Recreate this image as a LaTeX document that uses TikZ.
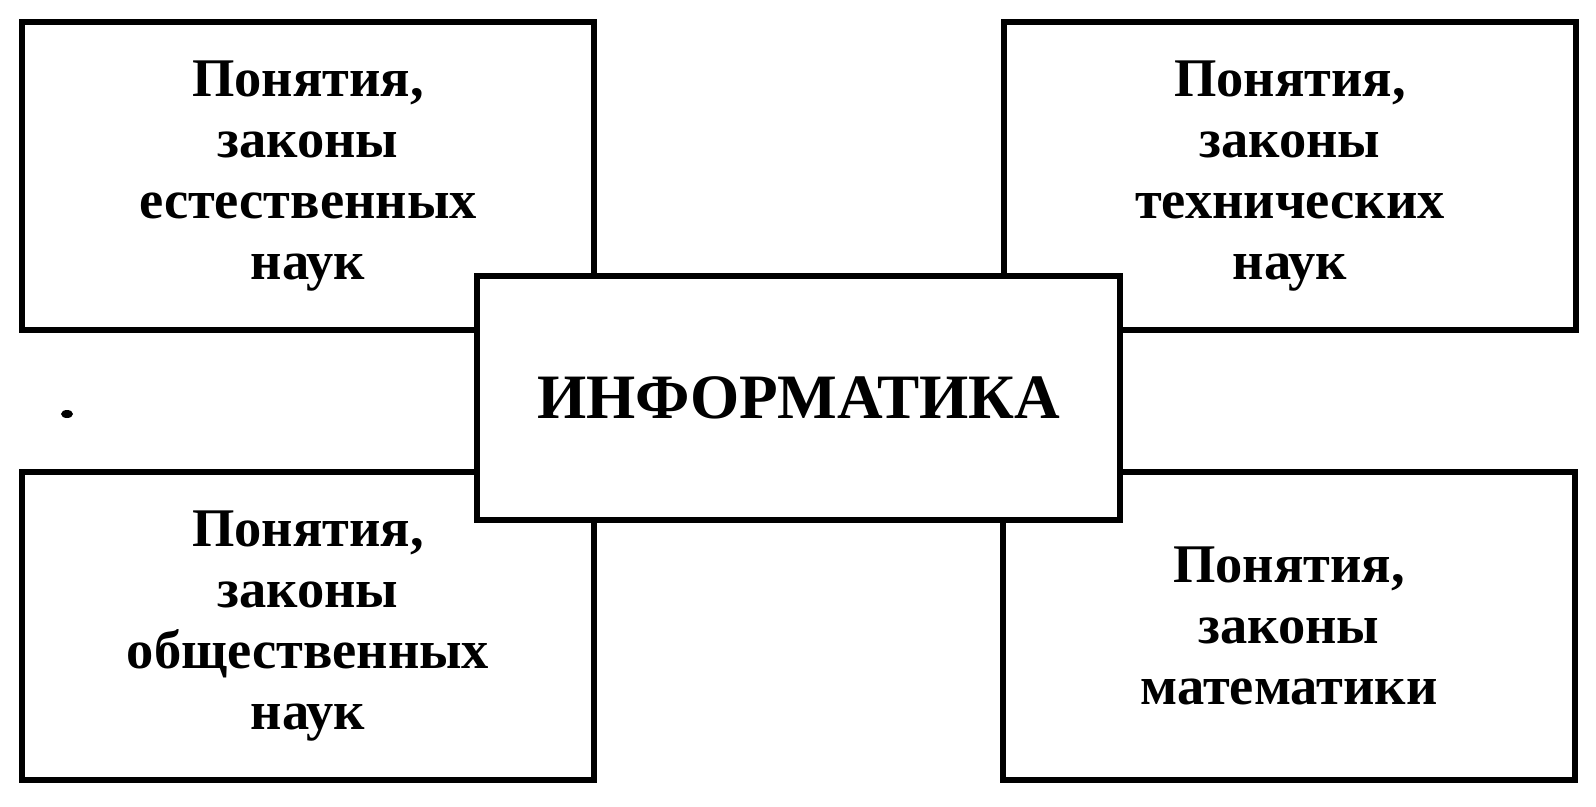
\documentclass[tikz,border=0pt]{standalone}
\usepackage{fontspec}
\setmainfont{Liberation Serif}

\begin{document}
\begin{tikzpicture}[x=0.02cm,y=-0.02cm,
    sci/.style={draw,line width=0.12cm,minimum width=11.44cm,minimum height=6.16cm,
      align=center,font=\fontsize{31}{34.7}\selectfont\bfseries},
    core/.style={draw,line width=0.12cm,fill=white,minimum width=12.86cm,minimum height=4.88cm,
      font=\fontsize{36}{40}\selectfont\bfseries}]
  \useasboundingbox (0,0) rectangle (1596,806);
    \foreach \xpos/\ypos/\boxname/\boxtext in {%
        308/176/nat/{Понятия,\\законы\\естественных\\наук},
        1290/176/tech/{Понятия,\\законы\\технических\\наук},
        308/626/soc/{Понятия,\\законы\\общественных\\наук},
        1289/626/math/{Понятия,\\законы\\математики}%
    }{%
        \node[sci] (\boxname) at (\xpos,\ypos) {\boxtext};
    }
  \node[core] (inf) at (798.5,398) {ИНФОРМАТИКА};
  % stray dot on the left
  \fill (67,414) ellipse (6 and 4);
\end{tikzpicture}
\end{document}
